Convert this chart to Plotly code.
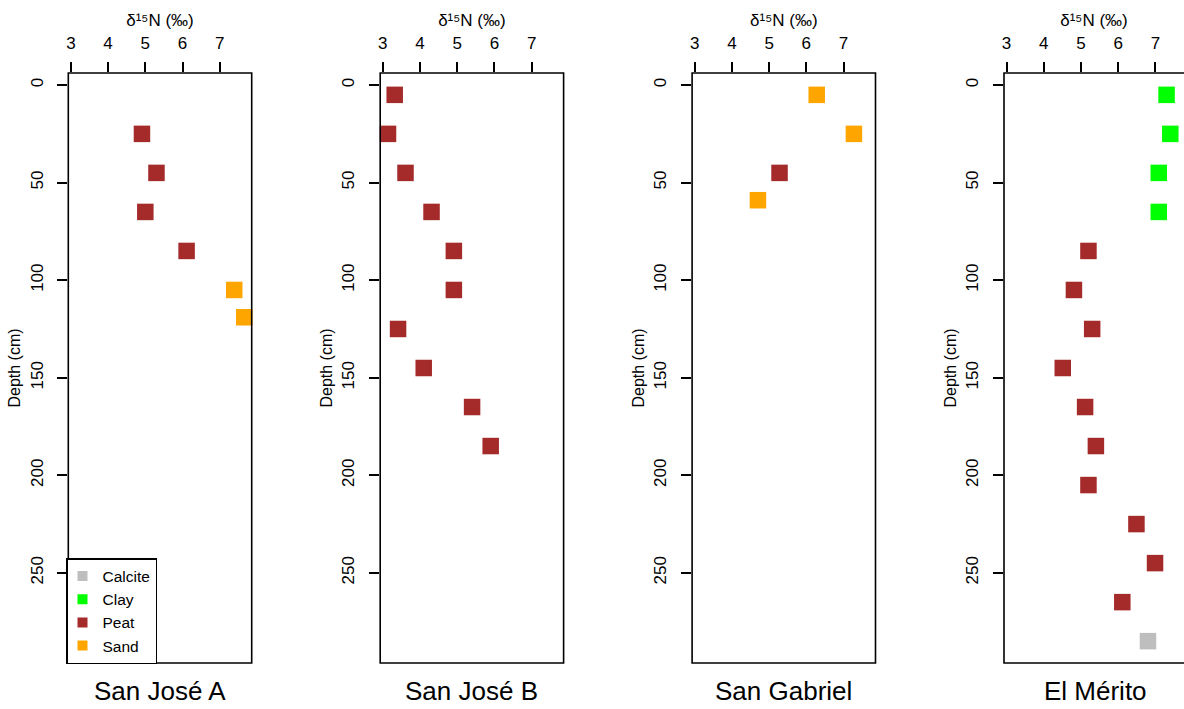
import plotly.graph_objects as go

W, H = 1184, 709

# ---------------- data ----------------
panel_titles = ["San José A", "San José B", "San Gabriel", "El Mérito"]

sja_depth = [25, 45, 65, 85, 105, 119]
sja_d15n = [4.91, 5.30, 5.00, 6.11, 7.39, 7.66]
sja_mat = ["Peat", "Peat", "Peat", "Peat", "Sand", "Sand"]

sjb_depth = [5, 25, 45, 65, 85, 105, 125, 145, 165, 185]
sjb_d15n = [3.32, 3.14, 3.61, 4.31, 4.91, 4.91, 3.41, 4.10, 5.40, 5.90]
sjb_mat = ["Peat"] * 10

sg_depth = [5, 25, 45, 59]
sg_d15n = [6.28, 7.28, 5.28, 4.70]
sg_mat = ["Sand", "Sand", "Peat", "Sand"]

em_depth = [5, 25, 45, 65, 85, 105, 125, 145, 165, 185, 205, 225, 245, 265, 285]
em_d15n = [7.30, 7.40, 7.09, 7.09, 5.20, 4.81, 5.30, 4.51, 5.11, 5.40, 5.20,
           6.49, 6.99, 6.11, 6.80]
em_mat = ["Clay"] * 4 + ["Peat"] * 10 + ["Calcite"]

materials = ["Calcite", "Clay", "Peat", "Sand"]
mat_colors = ["#BEBEBE", "#00FF00", "#A52A2A", "#FFA500"]

x_title = "δ¹⁵N (‰)"
y_title = "Depth (cm)"
x_ticks = [3, 4, 5, 6, 7]
y_ticks = [0, 50, 100, 150, 200, 250]
x_range = [2.93, 7.86]
y_range = [296.2, -6.2]

panels = [
    (sja_depth, sja_d15n, sja_mat),
    (sjb_depth, sjb_d15n, sjb_mat),
    (sg_depth, sg_d15n, sg_mat),
    (em_depth, em_d15n, em_mat),
]

# ---------------- layout geometry (pixels) ----------------
box_left0 = 68.3
box_w = 183.4
pitch = 311.9
box_top = 73.0
box_bottom = 663.0
FONT = "Liberation Sans, Arial, sans-serif"

fig = go.Figure()
layout = dict(
    width=W, height=H,
    margin=dict(l=0, r=0, t=0, b=0),
    paper_bgcolor="white", plot_bgcolor="white",
    font=dict(family=FONT, color="black"),
    showlegend=True,
)

shapes = []
annotations = []
ydom = [1 - box_bottom / H, 1 - box_top / H]

for i, (depth, d15n, mat) in enumerate(panels):
    n = i + 1
    xa = "xaxis" if n == 1 else f"xaxis{n}"
    ya = "yaxis" if n == 1 else f"yaxis{n}"
    xr = "x" if n == 1 else f"x{n}"
    yr = "y" if n == 1 else f"y{n}"
    left = box_left0 + pitch * i
    right = left + box_w
    rng = list(x_range)
    frac_right = 1.0
    if right > W:
        unit = box_w / (x_range[1] - x_range[0])
        rng = [x_range[0], x_range[0] + (W - left) / unit]
        frac_right = box_w / (W - left)
        right_dom = 1.0
    else:
        right_dom = right / W
    layout[xa] = dict(
        domain=[left / W, right_dom], range=rng, side="top",
        anchor=yr, tickvals=x_ticks, ticks="outside", ticklen=10,
        tickwidth=1.5, tickcolor="black", showgrid=False, zeroline=False,
        showline=False, ticklabelstandoff=6,
        tickfont=dict(size=17, family=FONT, color="black"),
        title=dict(text=x_title, standoff=3,
                   font=dict(size=17, family=FONT, color="black")),
        automargin=False, fixedrange=True,
    )
    layout[ya] = dict(
        domain=ydom, range=y_range, anchor=xr, tickvals=y_ticks,
        ticks="outside", ticklen=10, tickwidth=1.5, tickcolor="black",
        showgrid=False, zeroline=False, showline=False, tickangle=-90,
        ticklabelstandoff=8,
        tickfont=dict(size=17, family=FONT, color="black"),
        title=dict(text=y_title, standoff=2,
                   font=dict(size=16, family=FONT, color="black")),
        automargin=False, fixedrange=True,
    )
    shapes.append(dict(
        type="rect", xref=f"{xr} domain", yref=f"{yr} domain",
        x0=0, x1=frac_right, y0=0, y1=1,
        line=dict(color="black", width=1.6), fillcolor="rgba(0,0,0,0)",
        layer="above",
    ))
    cx = left + box_w / 2
    annotations.append(dict(
        text=panel_titles[i], x=cx / W, y=1 - 691 / H, xref="paper",
        yref="paper", showarrow=False, xanchor="center", yanchor="middle",
        font=dict(size=26, family=FONT, color="black"),
    ))
    for m, col in zip(materials, mat_colors):
        xs = [v for v, mm in zip(d15n, mat) if mm == m]
        ys = [d for d, mm in zip(depth, mat) if mm == m]
        if not xs:
            continue
        fig.add_trace(go.Scatter(
            x=xs, y=ys, mode="markers", xaxis=xr, yaxis=yr,
            marker=dict(symbol="square", size=16.5, color=col, line=dict(width=0)),
            name=m, legendgroup=m, showlegend=False, cliponaxis=False,
        ))

# legend-only entries
for k, (m, col) in enumerate(zip(materials, mat_colors)):
    fig.add_trace(go.Scatter(
        x=[None], y=[None], mode="markers", name=m, legendgroup=m,
        marker=dict(symbol="square", size=10, color=col, line=dict(width=0)),
        showlegend=True, legendrank=k + 1,
    ))

layout["legend"] = dict(
    x=66.0 / W, y=1 - 664 / H, xanchor="left", yanchor="bottom",
    bgcolor="white", bordercolor="black", borderwidth=1.5,
    font=dict(size=15.5, family=FONT, color="black"),
    indentation=-5,
    traceorder="normal", itemclick=False, itemdoubleclick=False,
)
layout["shapes"] = shapes
layout["annotations"] = annotations
fig.update_layout(**layout)

fig.write_html("out.html", config={"displayModeBar": False})
